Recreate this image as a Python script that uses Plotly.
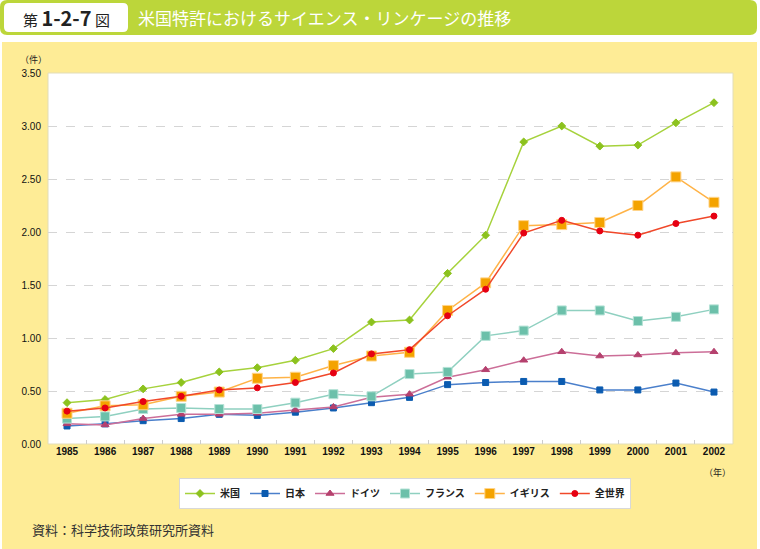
import plotly.graph_objects as go

years = [str(y) for y in range(1985, 2003)]
us      = [0.39, 0.42, 0.52, 0.58, 0.68, 0.72, 0.79, 0.90, 1.15, 1.17, 1.61, 1.97, 2.85, 3.00, 2.81, 2.82, 3.03, 3.22]
japan   = [0.17, 0.19, 0.22, 0.24, 0.28, 0.27, 0.30, 0.34, 0.39, 0.44, 0.56, 0.58, 0.59, 0.59, 0.51, 0.51, 0.575, 0.49]
germany = [0.19, 0.18, 0.24, 0.28, 0.28, 0.29, 0.32, 0.35, 0.44, 0.47, 0.63, 0.70, 0.79, 0.87, 0.83, 0.84, 0.86, 0.87]
france  = [0.24, 0.26, 0.33, 0.34, 0.33, 0.33, 0.39, 0.47, 0.45, 0.66, 0.68, 1.02, 1.07, 1.26, 1.26, 1.16, 1.20, 1.27]
uk      = [0.29, 0.36, 0.37, 0.45, 0.49, 0.62, 0.63, 0.74, 0.83, 0.865, 1.26, 1.52, 2.06, 2.07, 2.09, 2.25, 2.52, 2.28]
world   = [0.31, 0.34, 0.40, 0.45, 0.51, 0.53, 0.58, 0.67, 0.85, 0.89, 1.21, 1.46, 1.99, 2.11, 2.01, 1.97, 2.08, 2.15]

series_names = ["米国", "日本", "ドイツ", "フランス", "イギリス", "全世界"]
y_ticks = [0, 0.5, 1.0, 1.5, 2.0, 2.5, 3.0, 3.5]

W, H = 760, 549
L, R, T, B = 48, 27, 73, 105
PW, PH = W - L - R, H - T - B

def px(x):
    return (x - L) / PW

def py(y):
    return (H - B - y) / PH

def rrect(x0, y0, x1, y1, r):
    X0, X1 = px(x0), px(x1)
    Y0, Y1 = py(y0), py(y1)
    rx, ry = r / PW, r / PH
    return (f"M {X0+rx},{Y0} L {X1-rx},{Y0} Q {X1},{Y0} {X1},{Y0-ry} "
            f"L {X1},{Y1+ry} Q {X1},{Y1} {X1-rx},{Y1} L {X0+rx},{Y1} "
            f"Q {X0},{Y1} {X0},{Y1+ry} L {X0},{Y0-ry} Q {X0},{Y0} {X0+rx},{Y0} Z")

styles = [
    dict(line="#A6D23C", marker="#8CC21E", symbol="diamond", size=6, mline="#8CC21E"),
    dict(line="#4A7FCB", marker="#0B5BB0", symbol="square", size=6, mline="#0B5BB0"),
    dict(line="#CC6E98", marker="#B5416E", symbol="triangle-up", size=7, mline="#B5416E"),
    dict(line="#8FD0C0", marker="#6CC0AA", symbol="square", size=9, mline="#B5E2D6"),
    dict(line="#FFB347", marker="#F4A300", symbol="square", size=10, mline="#FFD48A"),
    dict(line="#F0482A", marker="#E60012", symbol="circle", size=6, mline="#E60012"),
]
data = [us, japan, germany, france, uk, world]

fig = go.Figure()
for name, vals, st in zip(series_names, data, styles):
    fig.add_trace(go.Scatter(
        x=years, y=vals, name=name, mode="lines+markers",
        line=dict(color=st["line"], width=1.5),
        marker=dict(color=st["marker"], symbol=st["symbol"], size=st["size"],
                    line=dict(color=st["mline"], width=1)),
    ))

shapes = [
    dict(type="rect", xref="paper", yref="paper", x0=px(2), x1=px(757), y0=py(42), y1=py(549),
         fillcolor="#FEEC96", line=dict(width=0), layer="below"),
    dict(type="path", xref="paper", yref="paper", path=rrect(0, 0, 757, 35, 7),
         fillcolor="#BCD63A", line=dict(width=0), layer="below"),
    dict(type="path", xref="paper", yref="paper", path=rrect(4, 3, 128, 32, 5),
         fillcolor="white", line=dict(width=0), layer="below"),
    dict(type="rect", xref="paper", yref="paper", x0=0, x1=1, y0=0, y1=1,
         fillcolor="white", line=dict(color="#E2DDB8", width=1), layer="below"),
]

cjk = "Noto Sans CJK JP"
annotations = [
    dict(xref="paper", yref="paper", x=px(66), y=py(18), xanchor="center", yanchor="middle",
         text="第 <span style='font-size:20px'><b>1-2-7</b></span> 図", showarrow=False,
         font=dict(family=cjk, size=15, color="#222222")),
    dict(xref="paper", yref="paper", x=px(136), y=py(18), xanchor="left", yanchor="middle",
         text="米国特許におけるサイエンス・リンケージの推移", showarrow=False,
         font=dict(family=cjk, size=17, color="white")),
    dict(xref="paper", yref="paper", x=px(33), y=py(60), xanchor="center", yanchor="middle",
         text="（件）", showarrow=False, font=dict(family=cjk, size=9, color="#222222")),
    dict(xref="paper", yref="paper", x=px(717), y=py(472), xanchor="center", yanchor="middle",
         text="（年）", showarrow=False, font=dict(family=cjk, size=9, color="#222222")),
    dict(xref="paper", yref="paper", x=px(30), y=py(529), xanchor="left", yanchor="middle",
         text="資料：科学技術政策研究所資料", showarrow=False,
         font=dict(family=cjk, size=13, color="#333333")),
]

fig.update_layout(
    width=W, height=H,
    margin=dict(l=L, r=R, t=T, b=B),
    paper_bgcolor="white",
    plot_bgcolor="rgba(0,0,0,0)",
    shapes=shapes,
    annotations=annotations,
    showlegend=True,
    legend=dict(orientation="h", x=px(405), xanchor="center", y=py(478), yanchor="top",
                bgcolor="white", bordercolor="#D8D8D8", borderwidth=1,
                font=dict(family=cjk, size=10, color="#222222", weight="bold"),
                itemwidth=30, tracegroupgap=0),
    xaxis=dict(type="category", range=[-0.5, 17.5], tickson="boundaries", ticks="inside",
               ticklen=4, tickcolor="#CCCCCC", showgrid=False, showline=False, zeroline=False,
               tickfont=dict(family="Liberation Sans", size=10, color="#111111", weight="bold")),
    yaxis=dict(range=[0, 3.5], tickvals=y_ticks, tickformat=".2f", showgrid=True,
               gridcolor="#D5D5D5", griddash="dash", gridwidth=1, zeroline=False,
               showline=False, ticks="", ticklabelstandoff=6,
               tickfont=dict(family="Liberation Sans", size=10, color="#111111")),
)

fig.write_html("out.html", config={"displayModeBar": False},
               post_script="document.body.style.margin='0px';")
